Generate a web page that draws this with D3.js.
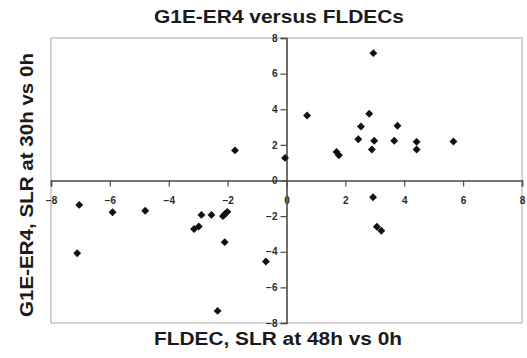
<!DOCTYPE html>
<html>
<head>
<meta charset="utf-8">
<script src="https://cdn.jsdelivr.net/npm/d3@7"></script>
<style>
  body { margin: 0; background: #fff; }
  text { font-family: "Liberation Sans", Arial, sans-serif; }
</style>
</head>
<body>
<div id="chart"></div>
<script>
// Data (FLDEC SLR 48h vs 0h, G1E-ER4 SLR 30h vs 0h)
const fldec = [
  -1.75, -0.05, 0.7, 2.95, 2.81, 2.53, 3.77, 2.44, 2.98, 3.66, 4.42, 5.67,
  2.9, 4.42, 1.7, 1.78,
  -7.04, -7.11, -5.91, -4.8, -3.14, -2.98, -2.89, -2.55, -2.16, -2.08, -2.01,
  -2.1, -2.34, -0.7,
  2.94, 3.07, 3.22
];
const g1e = [
  1.69, 1.27, 3.65, 7.15, 3.75, 3.03, 3.07, 2.32, 2.23, 2.23, 2.17, 2.19,
  1.74, 1.74, 1.6, 1.42,
  -1.37, -4.08, -1.78, -1.7, -2.72, -2.58, -1.93, -1.93, -2.0, -1.87, -1.76,
  -3.46, -7.32, -4.55,
  -0.94, -2.6, -2.82
];
const ticks = [-8, -6, -4, -2, 0, 2, 4, 6, 8];

const W = 527, H = 358;
const plot = { left: 51, right: 522, top: 38, bottom: 323 };

const svg = d3.select("#chart")
  .append("svg")
  .attr("width", W)
  .attr("height", H);

const x = d3.scaleLinear().domain([-8, 8]).range([plot.left, plot.right]);
const y = d3.scaleLinear().domain([-8, 8]).range([plot.bottom, plot.top]);

// plot area frame
svg.append("rect")
  .attr("x", plot.left)
  .attr("y", plot.top)
  .attr("width", plot.right - plot.left)
  .attr("height", plot.bottom - plot.top)
  .attr("fill", "none")
  .attr("stroke", "#a8a8a8")
  .attr("stroke-width", 1);

// X axis through y = 0
const xAxis = svg.append("g")
  .attr("transform", `translate(0,${y(0)})`)
  .call(d3.axisBottom(x).tickValues(ticks).tickSize(6).tickPadding(10));

// Y axis through x = 0
const yAxis = svg.append("g")
  .attr("transform", `translate(${x(0)},0)`)
  .call(d3.axisLeft(y).tickValues(ticks).tickSize(6).tickPadding(3));

[xAxis, yAxis].forEach(g => {
  g.select(".domain").attr("stroke", "#4a4a4a").attr("stroke-width", 1.6);
  g.selectAll(".tick line").attr("stroke", "#4a4a4a").attr("stroke-width", 1.2);
  g.selectAll(".tick text")
    .attr("fill", "#2a2a2a")
    .style("font-size", "10px")
    .style("font-weight", "bold");
});

// points as diamonds
const diamond = d3.symbol().type(d3.symbolDiamond2).size(40);
svg.append("g")
  .selectAll("path")
  .data(d3.range(fldec.length))
  .enter()
  .append("path")
  .attr("d", diamond)
  .attr("transform", i => `translate(${x(fldec[i])},${y(g1e[i])})`)
  .attr("fill", "#111");

// Title
svg.append("text")
  .attr("x", 279)
  .attr("y", 23)
  .attr("text-anchor", "middle")
  .attr("textLength", 250)
  .attr("lengthAdjust", "spacingAndGlyphs")
  .style("font-size", "18px")
  .style("font-weight", "bold")
  .attr("fill", "#1a1a1a")
  .text("G1E-ER4 versus FLDECs");

// X axis title
svg.append("text")
  .attr("x", 278)
  .attr("y", 345)
  .attr("text-anchor", "middle")
  .attr("textLength", 248)
  .attr("lengthAdjust", "spacingAndGlyphs")
  .style("font-size", "18px")
  .style("font-weight", "bold")
  .attr("fill", "#1a1a1a")
  .text("FLDEC, SLR at 48h vs 0h");

// Y axis title
svg.append("text")
  .attr("transform", "translate(33,185) rotate(-90)")
  .attr("text-anchor", "middle")
  .attr("textLength", 264)
  .attr("lengthAdjust", "spacingAndGlyphs")
  .style("font-size", "18px")
  .style("font-weight", "bold")
  .attr("fill", "#1a1a1a")
  .text("G1E-ER4, SLR at 30h vs 0h");
</script>
</body>
</html>
